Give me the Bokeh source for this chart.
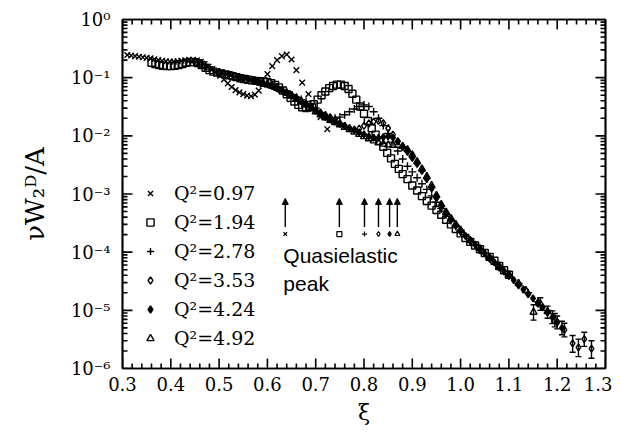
import math
from bokeh.plotting import figure
from bokeh.models import (ColumnDataSource, LinearAxis, LogAxis, FixedTicker, SingleIntervalTicker,
                          CustomJSTickFormatter, Legend, LegendItem, Arrow, NormalHead, Label,
                          Whisker, TeeHead, Range1d)
from bokeh.embed import file_html
from bokeh.resources import INLINE

# ---------------- data ----------------
xi_097 = [0.310,0.318,0.326,0.334,0.342,0.350,0.358,0.366,0.374,0.382,0.390,0.398,0.406,0.414,0.422,
          0.430,0.438,0.446,0.454,0.462,0.470,0.478,0.486,0.494,0.502,0.510,0.518,0.526,0.534,0.542,
          0.550,0.558,0.566,0.574,0.582,0.590,0.600,0.610,0.620,0.630,0.640,0.650,0.660,0.672,0.685,
          0.710,0.724]
w_097 = [0.245,0.240,0.235,0.229,0.224,0.219,0.214,0.207,0.200,0.195,0.191,0.189,0.189,0.191,0.195,
         0.199,0.203,0.203,0.198,0.188,0.172,0.155,0.140,0.124,0.108,0.093,0.080,0.069,0.061,0.056,
         0.052,0.049,0.048,0.051,0.060,0.076,0.115,0.158,0.200,0.235,0.250,0.205,0.135,0.082,0.052,
         0.021,0.013]

xi_194 = [0.360,0.368,0.376,0.384,0.392,0.400,0.408,0.416,0.424,0.432,0.440,0.448,0.456,0.464,0.472,
          0.480,0.488,0.496,0.504,0.512,0.520,0.528,0.536,0.544,0.552,0.560,0.568,0.576,0.584,0.592,
          0.600,0.608,0.616,0.624,0.632,0.640,0.648,0.656,0.664,0.672,0.680,0.688,0.696,0.704,0.712,
          0.720,0.728,0.736,0.744,0.752,0.760,0.768,0.776,0.784,0.792,0.800,0.808,0.816,0.824,0.832,
          0.840,0.848,0.856,0.864,0.872,0.880,0.890,0.900,0.910,0.920,0.930,0.940,0.950,0.960,0.970,
          0.980,0.990,1.000,1.010,1.020,1.030,1.040,1.050,1.060,1.070,1.080,1.090,1.100]
w_194 = [0.180,0.172,0.165,0.160,0.158,0.158,0.160,0.165,0.172,0.180,0.185,0.185,0.178,0.165,0.148,
         0.135,0.127,0.122,0.118,0.114,0.110,0.106,0.102,0.098,0.095,0.092,0.090,0.088,0.087,0.086,
         0.084,0.080,0.075,0.068,0.060,0.052,0.045,0.039,0.034,0.031,0.030,0.031,0.035,0.042,0.050,
         0.058,0.066,0.072,0.076,0.076,0.072,0.064,0.053,0.042,0.032,0.024,0.018,0.0135,0.0105,0.0082,
         0.0065,0.0051,0.0041,0.0033,0.0027,0.0022,0.0018,0.0014,0.00115,0.00092,0.00076,0.00063,
         0.00053,0.00044,0.00036,0.00030,0.00025,0.00021,0.000175,0.00015,0.00013,0.000112,0.000097,
         0.000083,0.000071,0.000058,0.000049,0.000041]

xi_278 = [0.44,0.45,0.46,0.47,0.48,0.49,0.50,0.51,0.52,0.53,0.54,0.55,0.56,0.57,0.58,0.59,0.60,0.61,
          0.62,0.63,0.64,0.65,0.66,0.67,0.68,0.69,0.70,0.71,0.72,0.73,0.74,0.75,0.76,0.77,0.78,0.79,
          0.80,0.81,0.82,0.83,0.84,0.85,0.86,0.87,0.88,0.89,0.90,0.91,0.92,0.93,0.94,0.95,0.96,0.97,
          0.98,0.99,1.00,1.02,1.04,1.06,1.08,1.10,1.12,1.14,1.16,1.18]
w_278 = [0.190,0.180,0.166,0.151,0.140,0.132,0.125,0.118,0.112,0.106,0.101,0.097,0.093,0.090,0.087,
         0.083,0.078,0.072,0.066,0.060,0.055,0.050,0.046,0.042,0.039,0.035,0.030,0.025,0.022,0.020,
         0.020,0.021,0.023,0.026,0.029,0.032,0.034,0.032,0.026,0.020,0.015,0.011,0.0078,0.0055,0.0040,
         0.0030,0.0024,0.0019,0.0015,0.0012,0.00093,0.00072,0.00056,0.00044,0.00035,0.00028,0.00022,
         0.000152,0.000108,0.000077,0.000055,0.000040,0.000029,0.000020,0.000014,0.000010]

xi_353 = [0.50,0.51,0.52,0.53,0.54,0.55,0.56,0.57,0.58,0.59,0.60,0.61,0.62,0.63,0.64,0.65,0.66,0.67,
          0.68,0.69,0.70,0.71,0.72,0.73,0.74,0.75,0.76,0.77,0.78,0.79,0.80,0.81,0.82,0.83,0.84,0.85,
          0.86,0.87,0.88,0.89,0.90,0.91,0.92,0.93,0.94,0.95,0.96,0.97,0.98,0.99,1.00,1.02,1.04,1.06,
          1.08,1.10,1.12,1.14,1.16,1.18,1.20,1.215,1.232,1.244,1.256,1.271]
w_353 = [0.125,0.120,0.114,0.108,0.103,0.098,0.094,0.090,0.086,0.082,0.078,0.073,0.068,0.062,0.056,
         0.050,0.045,0.040,0.035,0.031,0.028,0.025,0.023,0.021,0.019,0.0165,0.0148,0.0134,0.0128,
         0.0133,0.0148,0.0163,0.0175,0.0180,0.0166,0.0135,0.0105,0.0080,0.0064,0.0053,0.0042,0.0033,
         0.0025,0.0018,0.00125,0.00085,0.00060,0.00046,0.00036,0.00029,0.00023,0.000155,0.000110,
         0.000078,0.000055,0.000039,0.000027,0.000019,0.000013,0.0000092,0.0000063,0.0000046,
         0.0000027,0.0000023,0.0000032,0.0000022]

xi_424 = [0.54,0.55,0.56,0.57,0.58,0.59,0.60,0.61,0.62,0.63,0.64,0.65,0.66,0.67,0.68,0.69,0.70,0.71,
          0.72,0.73,0.74,0.75,0.76,0.77,0.78,0.79,0.80,0.81,0.82,0.83,0.84,0.85,0.86,0.87,0.88,0.89,
          0.90,0.91,0.92,0.93,0.94,0.95,0.96,0.97,0.98,0.99,1.00,1.01,1.02,1.03,1.04,1.05,1.06,1.07,
          1.08,1.09,1.10,1.11,1.12,1.13,1.14,1.15,1.16,1.17,1.18,1.19,1.20,1.21]
w_424 = [0.100,0.097,0.093,0.089,0.085,0.081,0.077,0.072,0.067,0.061,0.055,0.050,0.045,0.040,0.035,
         0.031,0.027,0.024,0.021,0.019,0.0175,0.016,0.0148,0.0136,0.0125,0.0115,0.0106,0.0098,0.0093,
         0.0092,0.0095,0.0098,0.0093,0.0080,0.0066,0.0056,0.0045,0.0035,0.0026,0.0019,0.0013,0.0009,
         0.00063,0.00047,0.00037,0.00029,0.00023,0.00019,0.00016,0.000135,0.000113,0.000095,0.000080,
         0.000067,0.000056,0.000047,0.000040,0.000033,0.000028,0.000023,0.000019,0.000016,0.0000135,
         0.0000113,0.0000093,0.0000076,0.0000062,0.0000050]

xi_492 = [0.58,0.59,0.60,0.61,0.62,0.63,0.64,0.65,0.66,0.67,0.68,0.69,0.70,0.71,0.72,0.73,0.74,0.75,
          0.76,0.77,0.78,0.79,0.80,0.81,0.82,0.83,0.84,0.85,0.86,0.87,0.88,0.89,0.90,0.91,0.92,0.93,
          0.94,0.95,0.96,0.97,0.98,0.99,1.00,1.02,1.04,1.06,1.08,1.10,1.12,1.135,1.151,1.165,1.18,1.195]
w_492 = [0.084,0.080,0.076,0.071,0.066,0.060,0.054,0.049,0.044,0.039,0.034,0.030,0.026,0.023,0.0205,
         0.0185,0.017,0.0155,0.014,0.0128,0.0116,0.0106,0.0097,0.0089,0.0082,0.0076,0.0072,0.0070,
         0.0069,0.0069,0.0066,0.0058,0.0047,0.0036,0.0027,0.0020,0.0014,0.00095,0.00066,0.00049,
         0.00038,0.00030,0.00024,0.000160,0.000115,0.000082,0.000058,0.000041,0.000029,0.000022,
         0.0000093,0.000013,0.0000095,0.0000068]

# error bars on the high-xi points
err_xi = [1.151, 1.165, 1.18, 1.19, 1.195, 1.20, 1.21, 1.215, 1.232, 1.244, 1.256, 1.271]
err_lo = [6.8e-6, 1.0e-5, 7.3e-6, 5.9e-6, 5.2e-6, 4.8e-6, 3.8e-6, 3.5e-6, 1.9e-6, 1.6e-6, 2.4e-6, 1.5e-6]
err_hi = [1.25e-5, 1.65e-5, 1.18e-5, 9.8e-6, 8.8e-6, 8.0e-6, 6.5e-6, 6.0e-6, 3.7e-6, 3.2e-6, 4.2e-6, 3.0e-6]

q2_labels = ["Q\u00b2=0.97", "Q\u00b2=1.94", "Q\u00b2=2.78", "Q\u00b2=3.53", "Q\u00b2=4.24", "Q\u00b2=4.92"]
qe_xi = [0.637, 0.749, 0.801, 0.830, 0.853, 0.869]   # quasielastic peak positions

# ---------------- figure ----------------
X0, X1 = 0.3, 1.3
FW, FH = 483, 349
p = figure(frame_width=FW, frame_height=FH, y_axis_type="log",
           x_range=Range1d(X0, X1), y_range=Range1d(1e-6, 1.0),
           output_backend="svg", toolbar_location=None,
           min_border_left=122, min_border_right=7, min_border_top=19, min_border_bottom=62)
p.xgrid.visible = False
p.ygrid.visible = False
p.outline_line_color = "black"
p.outline_line_width = 1.7
p.background_fill_color = "white"
p.border_fill_color = "white"

SERIF = "DejaVu Serif"
major_y = [1e-6, 1e-5, 1e-4, 1e-3, 1e-2, 1e-1, 1.0]
minor_y = [m * d for d in major_y[:-1] for m in range(2, 10)]
yticker = FixedTicker(ticks=major_y, minor_ticks=minor_y)
xticker = SingleIntervalTicker(interval=0.1, num_minor_ticks=5)

ylab_fmt = CustomJSTickFormatter(code="""
const sup = {"-":"\u207b","0":"\u2070","1":"\u00b9","2":"\u00b2","3":"\u00b3","4":"\u2074",
             "5":"\u2075","6":"\u2076","7":"\u2077","8":"\u2078","9":"\u2079"};
const e = Math.round(Math.log10(tick));
return "10" + String(e).split("").map(c => sup[c]).join("");
""")
xlab_fmt = CustomJSTickFormatter(code="return tick.toFixed(1);")
blank_fmt = CustomJSTickFormatter(code="return '';")

MAJ, MIN = 10, 5      # inward tick lengths in px

def style_axis(ax, labels=True):
    ax.axis_line_color = "black"
    ax.axis_line_width = 1.7
    ax.major_tick_line_color = None
    ax.minor_tick_line_color = None
    ax.major_tick_in = 0
    ax.major_tick_out = 0
    ax.minor_tick_in = 0
    ax.minor_tick_out = 0
    ax.major_label_text_font = SERIF
    ax.major_label_text_font_size = "18px"
    ax.major_label_text_color = "black"
    if not labels:
        ax.formatter = blank_fmt

xa = p.xaxis[0]
xa.ticker = xticker
xa.formatter = xlab_fmt
style_axis(xa)
xa.major_label_standoff = 8
xa.axis_label = "\u03be"
xa.axis_label_text_font = SERIF
xa.axis_label_text_font_size = "22px"
xa.axis_label_text_font_style = "normal"
xa.axis_label_text_color = "black"
xa.axis_label_standoff = 6

ya = p.yaxis[0]
ya.ticker = yticker
ya.formatter = ylab_fmt
style_axis(ya)
ya.major_label_standoff = 12
ya.axis_label = "\u03bdW\u2082\u1d30/A"
ya.axis_label_text_font = SERIF
ya.axis_label_text_font_size = "26px"
ya.axis_label_text_font_style = "normal"
ya.axis_label_text_color = "black"
ya.axis_label_standoff = 18

top = LinearAxis(ticker=xticker)
style_axis(top, labels=False)
p.add_layout(top, "above")
right = LogAxis(ticker=yticker)
style_axis(right, labels=False)
p.add_layout(right, "right")

# ---------------- inward tick marks on all four sides ----------------
dec_px = FH / 6.0     # pixels per decade
xt_major = [round(X0 + 0.1 * i, 2) for i in range(11)]
xt_minor = [round(X0 + 0.02 * i, 2) for i in range(51) if i % 5 != 0]
tx0, ty0, tx1, ty1 = [], [], [], []
for xs, L in ((xt_major, MAJ), (xt_minor, MIN)):
    f = 10 ** (L / dec_px)
    for xv in xs:
        tx0 += [xv, xv]; tx1 += [xv, xv]
        ty0 += [1e-6, 1.0]; ty1 += [1e-6 * f, 1.0 / f]
for ys, L in ((major_y, MAJ), (minor_y, MIN)):
    d = L / FW * (X1 - X0)
    for yv in ys:
        tx0 += [X0, X1]; tx1 += [X0 + d, X1 - d]
        ty0 += [yv, yv]; ty1 += [yv, yv]
tick_src = ColumnDataSource(dict(x0=tx0, y0=ty0, x1=tx1, y1=ty1))
p.segment(x0="x0", y0="y0", x1="x1", y1="y1", source=tick_src, line_color="black", line_width=1.6)

# ---------------- data markers ----------------
series = [
    (xi_097, w_097, "x", 8, None),
    (xi_194, w_194, "square", 7, None),
    (xi_278, w_278, "cross", 8, None),
    (xi_353, w_353, "diamond", 7, None),
    (xi_424, w_424, "diamond", 7, "black"),
    (xi_492, w_492, "triangle", 7, None),
]

err_src = ColumnDataSource(dict(x=err_xi, lo=err_lo, hi=err_hi))
p.add_layout(Whisker(source=err_src, base="x", lower="lo", upper="hi", dimension="height",
                     line_color="black", line_width=1.4,
                     lower_head=TeeHead(size=6, line_width=1.4, line_color="black"),
                     upper_head=TeeHead(size=6, line_width=1.4, line_color="black")))

items = []
for (xs, ys, mk, sz, fill), lab in zip(series, q2_labels):
    src = ColumnDataSource(dict(x=xs, y=ys))
    r = p.scatter("x", "y", source=src, marker=mk, size=sz, line_color="black",
                  line_width=1.4, fill_color=fill)
    items.append(LegendItem(label=lab, renderers=[r]))

legend = Legend(items=items, location=(19, 19), orientation="vertical",
                glyph_width=18, glyph_height=20, label_height=20, label_standoff=15,
                spacing=7, padding=0, margin=0, border_line_alpha=0,
                background_fill_alpha=0, label_text_font=SERIF,
                label_text_font_size="19px", label_text_color="black")
p.add_layout(legend, "center")

# ---------------- quasielastic arrows ----------------
arrow_bottom = 2.7e-4
arrow_top = 8.4e-4
mark_y = 2.05e-4
arr_src = ColumnDataSource(dict(x0=qe_xi, x1=qe_xi, y0=[arrow_bottom] * 6, y1=[arrow_top] * 6))
p.add_layout(Arrow(source=arr_src, x_start="x0", y_start="y0", x_end="x1", y_end="y1",
                   line_color="black", line_width=1.4,
                   end=NormalHead(size=6, fill_color="black", line_color="black", line_width=1)))
for (xs, ys, mk, sz, fill), qx in zip(series, qe_xi):
    p.scatter(x=[qx], y=[mark_y], marker=mk, size=5, line_color="black", line_width=1.2,
              fill_color=fill)

p.add_layout(Label(x=0.633, y=8.8e-5, text="Quasielastic", text_font="Liberation Sans",
                   text_font_size="21px", text_baseline="middle", text_color="black"))
p.add_layout(Label(x=0.633, y=2.9e-5, text="peak", text_font="Liberation Sans",
                   text_font_size="21px", text_baseline="middle", text_color="black"))

open("out.html", "w").write(file_html(p, INLINE))
